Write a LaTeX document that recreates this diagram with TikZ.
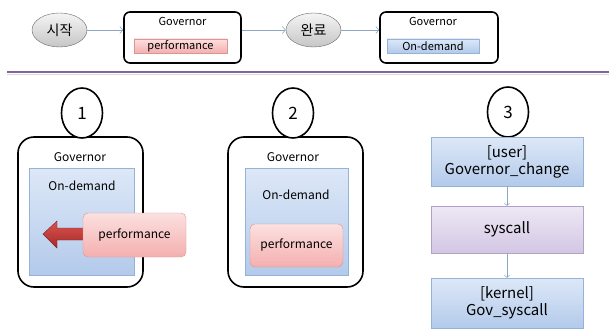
\documentclass[tikz,border=0pt]{standalone}
\usepackage{fontspec}
\setmainfont{Noto Sans CJK KR}
\usepackage{xcolor}
\usetikzlibrary{positioning,calc,shapes.geometric,arrows.meta}

\definecolor{lineblue}{HTML}{8AA8C4}
\definecolor{blueedge}{HTML}{95B3D7}
\definecolor{bluetop}{HTML}{DDE8F7}
\definecolor{bluebot}{HTML}{B3CAEB}
\definecolor{pinkedge}{HTML}{D99694}
\definecolor{pinktop}{HTML}{FCE0E0}
\definecolor{pinkbot}{HTML}{F5AFAF}
\definecolor{purpedge}{HTML}{B3A2C7}
\definecolor{purptop}{HTML}{EEE8F5}
\definecolor{purpbot}{HTML}{D3C6E4}
\definecolor{divider}{HTML}{8064A2}
\definecolor{arrowdark}{HTML}{A52A2A}
\definecolor{arrowlight}{HTML}{D9534F}

\tikzset{
  flowline/.style={draw=lineblue, line width=0.6pt, -{Straight Barb[length=3pt,width=7pt]}},
  stateoval/.style={ellipse, draw=gray!80!black, top color=gray!8, bottom color=gray!45, minimum width=55, minimum height=34, inner sep=0pt, font=\fontsize{14}{16}\selectfont},
  govbox/.style={draw, line width=1.6pt, rounded corners=6pt, fill=white},
  bigbox/.style={draw, line width=1.6pt, rounded corners=16pt, fill=white},
  numcircle/.style={ellipse, draw, line width=1.6pt, fill=white, minimum width=41, minimum height=50, inner sep=0pt, font=\fontsize{17}{20}\selectfont},
  bluebar/.style={draw=blueedge, top color=bluetop, bottom color=bluebot, inner sep=0pt},
  pinkbar/.style={draw=pinkedge, top color=pinktop, bottom color=pinkbot, inner sep=0pt},
  callbox/.style={draw=blueedge, top color=bluetop, bottom color=bluebot, minimum width=152, align=center, inner sep=0pt, font=\fontsize{15}{17}\selectfont},
  toplabel/.style={font=\fontsize{11}{13}\selectfont},
  boxlabel/.style={font=\fontsize{12}{14}\selectfont},
}

\begin{document}
\begin{tikzpicture}[x=1pt,y=-1pt]
  \useasboundingbox (0,0) rectangle (609,329);

  % top row: start -> performance -> done -> on-demand
  \node[stateoval] (start) at (59.5,30) {시작};
  \node[govbox, minimum width=117, minimum height=51] (topgov1) at (182.5,37.5) {};
  \node[toplabel] (topgov1lbl) at (182.5,21) {Governor};
  \node[pinkbar, minimum width=93, minimum height=14, toplabel] (topperf) at (180.5,46) {performance};
  \node[stateoval] (done) at (313.5,30) {완료};
  \node[govbox, minimum width=118, minimum height=51] (topgov2) at (439,37.5) {};
  \node[toplabel] (topgov2lbl) at (433,21) {Governor};
  \node[bluebar, minimum width=92, minimum height=14, toplabel] (topdemand) at (433,46) {On-demand};

  \draw[flowline] (start.east) -- (start.east -| topgov1.west);
  \draw[flowline] (topgov1.east |- done.west) -- (done.west);
  \draw[flowline] (done.east) -- (done.east -| topgov2.west);

  % divider
  \draw[gray!30, line width=1.5pt] (7,74.5) -- (609,74.5);
  \draw[divider, line width=2.5pt] (7,72) -- (609,72);

  % case 1: performance leaves the on-demand box
  \node[bigbox, minimum width=125, minimum height=150] (case1) at (80.5,212) {};
  \node[numcircle] (num1) at (82,113) {1};
  \node[boxlabel] (gov1lbl) at (80,157) {Governor};
  \node[bluebar, minimum width=105, minimum height=107] (demand1) at (81.5,221.5) {};
  \node[boxlabel] (demand1lbl) at (82,186) {On-demand};
  \shade[top color=arrowlight, bottom color=arrowdark, draw=arrowdark!80!black]
    (90,228) -- (57,228) -- (57,221) -- (43,234) -- (57,248) -- (57,240) -- (90,240) -- cycle;
  \node[pinkbar, rounded corners=5pt, minimum width=103, minimum height=44, boxlabel] (perf1) at (134.5,235) {performance};

  % case 2: performance inside the on-demand box
  \node[bigbox, minimum width=135, minimum height=150] (case2) at (295.5,212) {};
  \node[numcircle] (num2) at (293,113) {2};
  \node[boxlabel] (gov2lbl) at (293,157) {Governor};
  \node[bluebar, minimum width=103, minimum height=107] (demand2) at (296.5,221.5) {};
  \node[boxlabel] (demand2lbl) at (296,195) {On-demand};
  \node[pinkbar, rounded corners=5pt, minimum width=93, minimum height=43, boxlabel] (perf2) at (296.5,245.5) {performance};

  % case 3: user -> syscall -> kernel
  \node[numcircle] (num3) at (508,112) {3};
  \node[callbox, minimum height=49] (user) at (507,161.5) {[user]\\Governor\_change};
  \node[callbox, minimum height=47, draw=purpedge, top color=purptop, bottom color=purpbot] (syscall) at (507,229.5) {syscall};
  \node[callbox, minimum height=50] (kernel) at (507,303) {[kernel]\\Gov\_syscall};
  \draw[flowline, -{Straight Barb[length=2pt,width=5pt]}] (user) -- (syscall);
  \draw[flowline, -{Straight Barb[length=2pt,width=5pt]}] (syscall) -- (kernel);
\end{tikzpicture}
\end{document}
